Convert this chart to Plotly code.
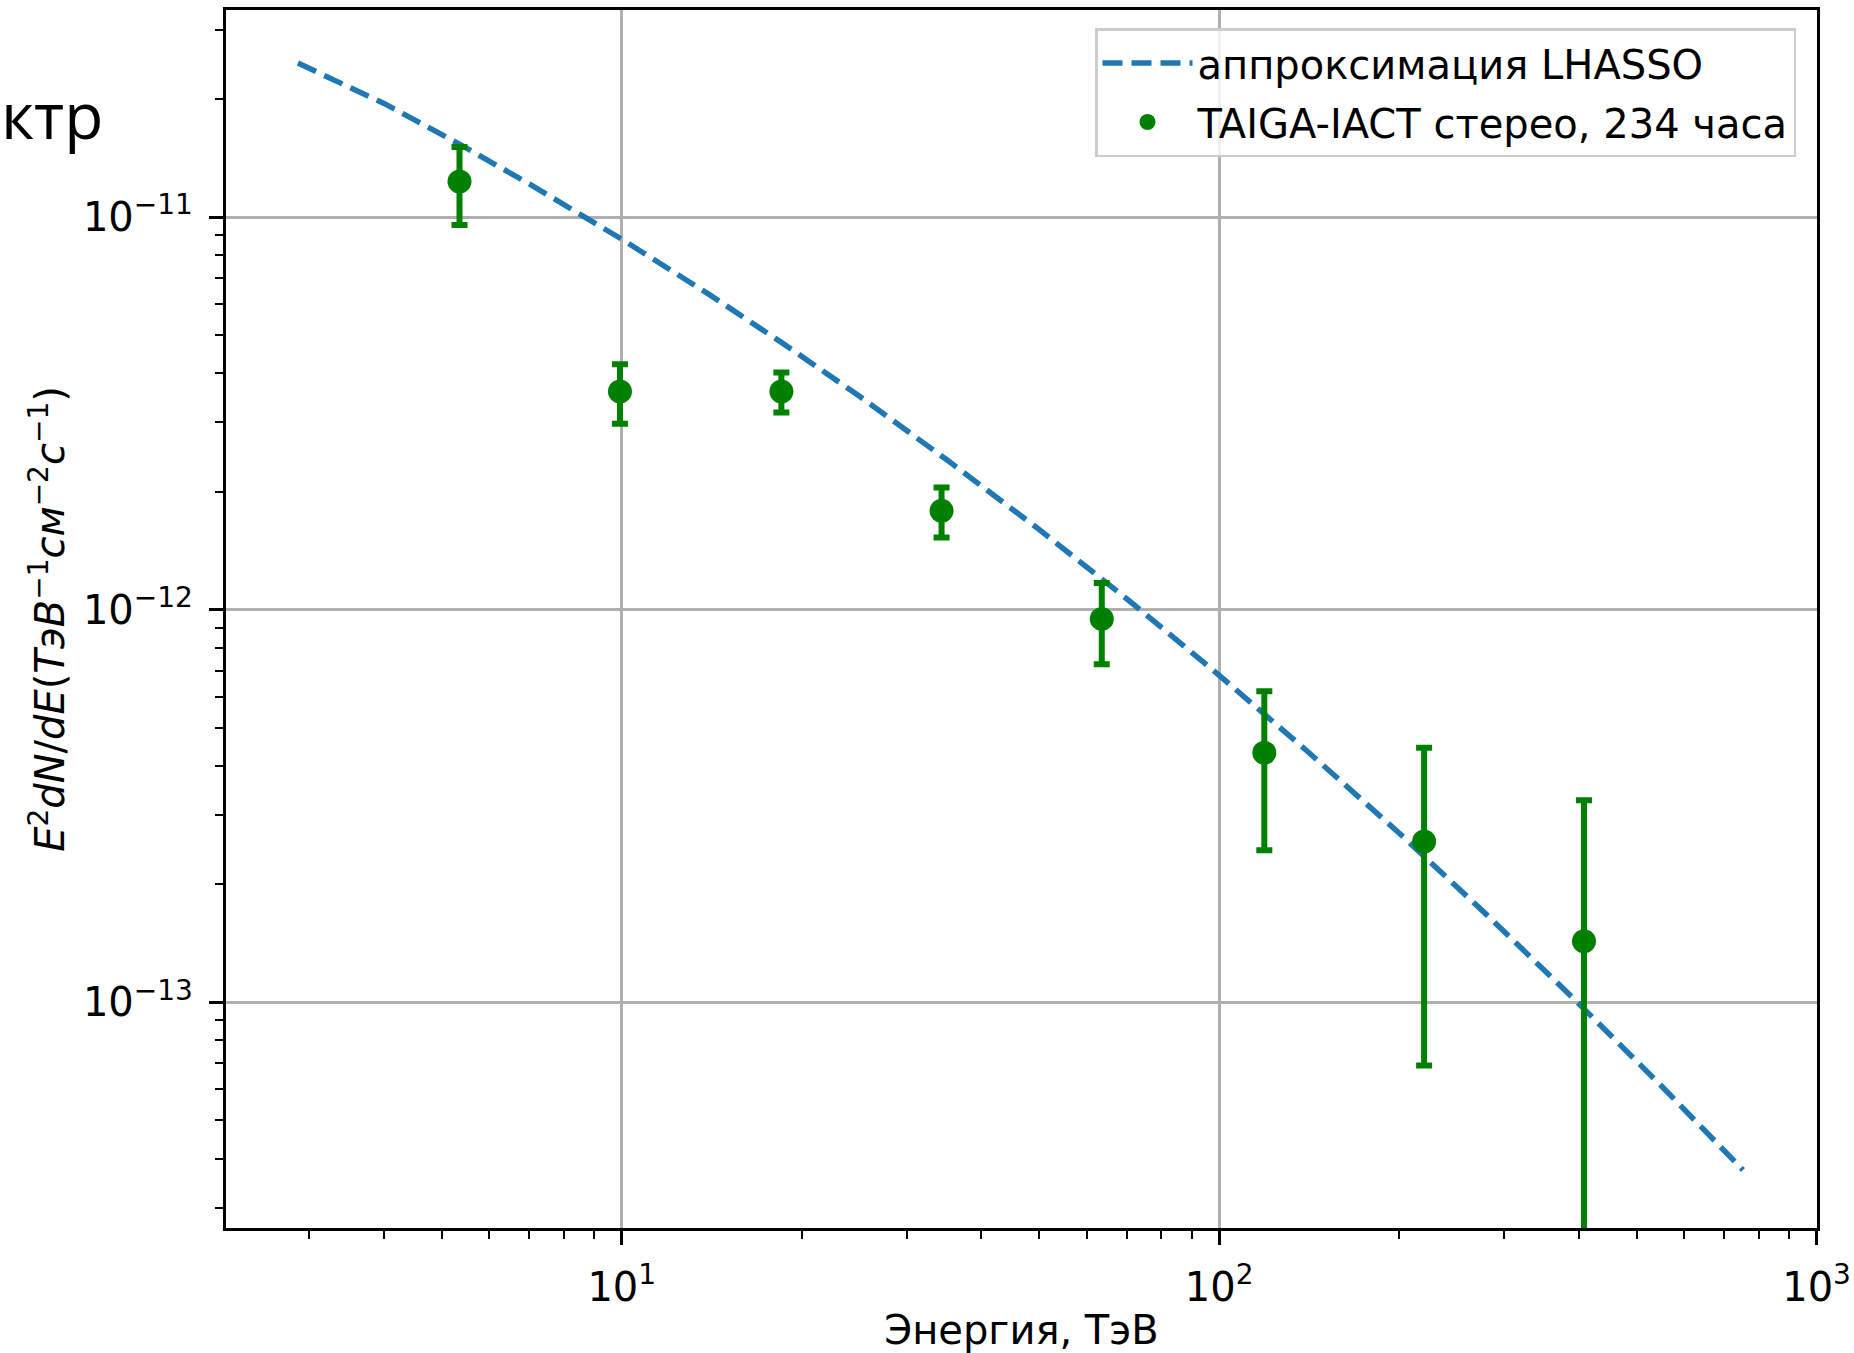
import plotly.graph_objects as go

# ---- data ----
energy = [5.35, 9.93, 18.5, 34.3, 63.6, 119.0, 220.3, 408.0]          # TeV
flux = [1.233e-11, 3.60e-12, 3.60e-12, 1.788e-12, 9.48e-13, 4.32e-13, 2.57e-13, 1.43e-13]
flux_err = [2.77e-12, 6.2e-13, 4.2e-13, 2.6e-13, 2.22e-13, 1.88e-13, 1.88e-13, 1.84e-13]

fit_energy = [2.87, 4, 5.35, 7, 10, 14, 18.5, 25, 35, 50, 70, 100, 140, 200, 280, 400, 550, 753]
fit_flux = [2.47e-11, 1.95e-11, 1.535e-11, 1.216e-11, 8.79e-12, 6.36e-12, 4.80e-12, 3.50e-12,
            2.41e-12, 1.60e-12, 1.067e-12, 6.81e-13, 4.38e-13, 2.70e-13, 1.675e-13, 9.92e-14,
            6.12e-14, 3.74e-14]

x_major = [10, 100, 1000]
x_major_text = ["10<sup>1</sup>", "10<sup>2</sup>", "10<sup>3</sup>"]
y_major = [1e-13, 1e-12, 1e-11]
y_major_text = ["10<sup>−13</sup>", "10<sup>−12</sup>", "10<sup>−11</sup>"]

legend_fit = "аппроксимация LHASSO"
legend_data = "TAIGA-IACT стерео, 234 часа"
x_title = "Энергия, ТэВ"
y_title = ("<i>E</i><sup>2</sup><i>dN</i>/<i>dE</i>(<i>ТэВ</i><sup>−1</sup>"
           "<i>см</i><sup>−2</sup><i>с</i><sup>−1</sup>)")
corner_text = "ктр"

FONT = "DejaVu Sans"
W, H = 1854, 1353
L, R, T, B = 226, 37, 10, 125
PW, PH = W - L - R, H - B - T

x_minor = [m * 10 ** d for d in range(0, 3) for m in range(2, 10)]
y_minor = [m * 10.0 ** d for d in range(-14, -10) for m in range(2, 10)]

fig = go.Figure()
fig.add_trace(go.Scatter(
    x=fit_energy, y=fit_flux, mode="lines", name=legend_fit,
    legendgroup="a",
    line=dict(color="#1f77b4", width=5.5, dash="20px,9px"),
))
fig.add_trace(go.Scatter(
    x=energy, y=flux, mode="markers", name=legend_data,
    legendgroup="b",
    marker=dict(color="#008000", size=24),
    error_y=dict(type="data", array=flux_err, visible=True,
                 color="#008000", thickness=6, width=8),
))

axis_common = dict(
    type="log", showline=True, linecolor="black", linewidth=3.2, mirror=True,
    ticks="outside", ticklen=14, tickwidth=3.2, tickcolor="black",
    showgrid=True, gridcolor="#b0b0b0", gridwidth=3.2,
    tickfont=dict(family=FONT, size=40, color="black"),
    tickmode="array", automargin=False, zeroline=False,
    ticklabelstandoff=8,
)

fig.update_xaxes(
    **axis_common, range=[0.3375, 3.0007],
    tickvals=x_major, ticktext=x_major_text,
    minor=dict(tickmode="array", tickvals=x_minor, ticks="outside", ticklen=8,
               tickwidth=2.4, tickcolor="black", showgrid=False),
    title=dict(text=x_title, font=dict(family=FONT, size=40, color="black"), standoff=12),
)
fig.update_yaxes(
    **axis_common, range=[-13.575, -10.472],
    tickvals=y_major, ticktext=y_major_text,
    minor=dict(tickmode="array", tickvals=y_minor, ticks="outside", ticklen=8,
               tickwidth=2.4, tickcolor="black", showgrid=False),
    title=dict(text=y_title, font=dict(family=FONT, size=40, color="black"), standoff=6),
)

fig.add_annotation(
    text=corner_text, xref="paper", yref="paper",
    x=-L / PW, xanchor="left",
    y=(H - B - 114) / PH, yanchor="middle",
    showarrow=False, font=dict(family="Open Sans", size=64, color="black"),
    borderpad=0,
)

fig.update_layout(
    width=W, height=H,
    margin=dict(l=L, r=R, t=T, b=B, pad=0),
    paper_bgcolor="white", plot_bgcolor="white",
    font=dict(family=FONT, size=40, color="black"),
    legend=dict(
        x=(1796 - L) / PW, xanchor="right",
        y=(H - B - 28) / PH, yanchor="top",
        bgcolor="rgba(255,255,255,0.8)", bordercolor="#cccccc", borderwidth=2.5,
        font=dict(family=FONT, size=40, color="black"),
        traceorder="grouped", tracegroupgap=4, itemwidth=90,
    ),
)

fig.write_html("out.html")
